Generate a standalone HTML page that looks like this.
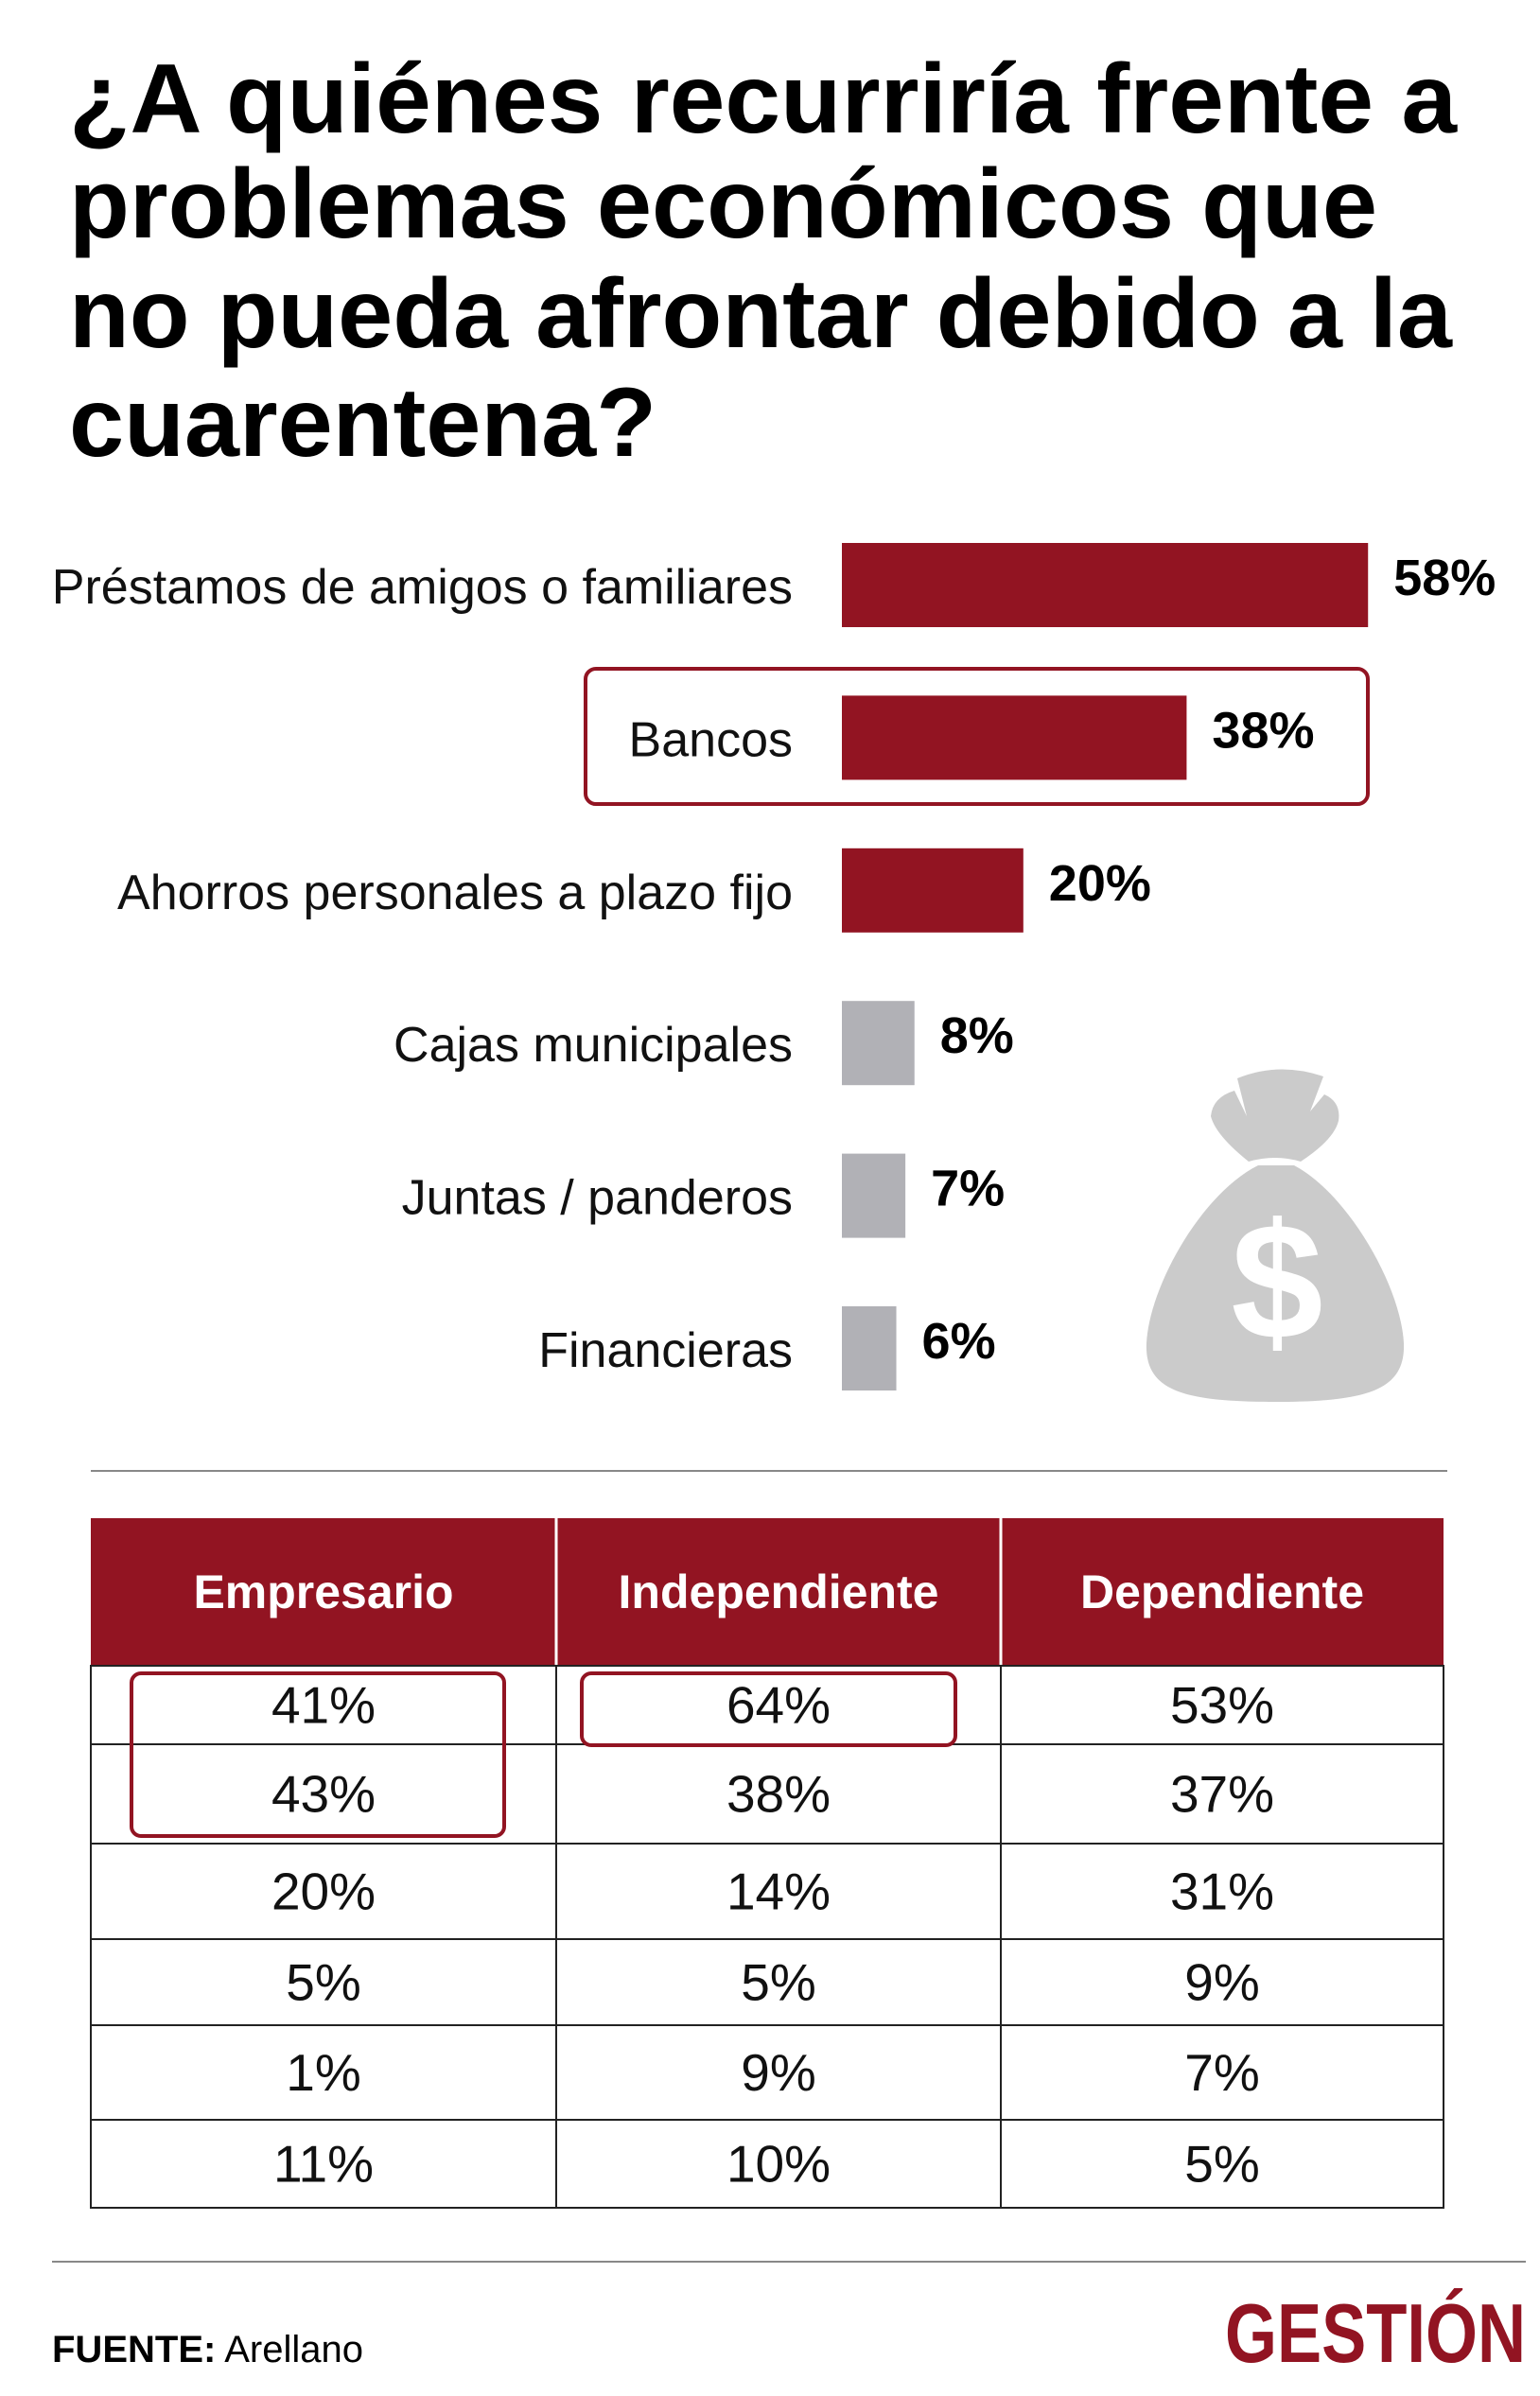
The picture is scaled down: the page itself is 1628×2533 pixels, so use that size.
<!DOCTYPE html>
<html><head><meta charset="utf-8"><style>
html,body{margin:0;padding:0;background:#fff}
svg{display:block}
text{font-family:"Liberation Sans",sans-serif}
</style></head><body>
<svg id="chart" width="1628" height="2533" viewBox="0 0 1628 2533" xmlns="http://www.w3.org/2000/svg">
<g font-weight="bold" font-size="104" fill="#000">
<text x="73" y="140" textLength="1467" lengthAdjust="spacingAndGlyphs">¿A quiénes recurriría frente a</text>
<text x="73" y="251" textLength="1383" lengthAdjust="spacingAndGlyphs">problemas económicos que</text>
<text x="73" y="367" textLength="1462" lengthAdjust="spacingAndGlyphs">no pueda afrontar debido a la</text>
<text x="73" y="482" textLength="621" lengthAdjust="spacingAndGlyphs">cuarentena?</text>
</g>
<rect x="619" y="707" width="827" height="143" rx="11" fill="none" stroke="#921422" stroke-width="4"/>
<g id="bars"></g>
<g fill="#cbcbcb">
<path d="M1330,1232 C1270,1262 1215,1360 1212,1420 C1210,1470 1250,1482 1348,1482 C1445,1482 1486,1470 1484,1420 C1481,1360 1425,1262 1368,1232 Z"/>
<path d="M1308,1140 Q1352,1122 1399,1138 L1385,1175 L1400,1157 Q1418,1165 1415,1185 Q1410,1205 1375,1228 Q1348,1220 1320,1228 Q1285,1200 1280,1180 Q1282,1160 1305,1153 L1318,1180 Z"/>
<text x="1350" y="1415" text-anchor="middle" font-size="175" font-weight="bold" fill="#fff">$</text>
</g>
<line x1="96" y1="1555" x2="1530" y2="1555" stroke="#888" stroke-width="2"/>
<g id="table"></g>
<line x1="55" y1="2391" x2="1613" y2="2391" stroke="#888" stroke-width="2"/>
<text x="55" y="2497" font-size="40" fill="#000"><tspan font-weight="bold">FUENTE:</tspan> Arellano</text>
<text x="1295" y="2497" font-family="Liberation Serif,serif" font-weight="bold" font-size="88" fill="#921422" textLength="318" lengthAdjust="spacingAndGlyphs">GESTIÓN</text>
</svg>
<script>
const categories = ["Préstamos de amigos o familiares","Bancos","Ahorros personales a plazo fijo","Cajas municipales","Juntas / panderos","Financieras"];
const values = [58,38,20,8,7,6];
const highlighted = [true,true,true,false,false,false];
const columns = ["Empresario","Independiente","Dependiente"];
const empresario = [41,43,20,5,1,11];
const independiente = [64,38,14,5,9,10];
const dependiente = [53,37,31,9,7,5];

const NS="http://www.w3.org/2000/svg";
function mk(tag,attrs,parent){const e=document.createElementNS(NS,tag);for(const k in attrs)e.setAttribute(k,attrs[k]);parent.appendChild(e);return e;}
const x0=890, pxPer=9.59;
const xs=v=>x0+v*pxPer;
const yRow=i=>574+i*161.4;
const bars=document.getElementById('bars');
categories.forEach((c,i)=>{
  const y=yRow(i);
  const lab=mk('text',{x:838,y:y+64,'text-anchor':'end','font-size':52,fill:'#111'},bars);
  
  
  lab.textContent=c;
  const r=mk('rect',{x:x0,y:y,width:xs(values[i])-x0,height:89,fill:highlighted[i]?'#921422':'#b1b1b6'},bars);
  
  
  const v=mk('text',{x:xs(values[i])+27,y:y+55,'font-size':54,'font-weight':'bold',fill:'#000'},bars);
  
  
  v.textContent=values[i]+'%';
});
const t=document.getElementById('table');
const colX=[96,588,1058,1526];
const rowY=[1761,1844,1949,2050,2141,2241,2334];
const hdr=mk('rect',{x:96,y:1605,width:1430,height:156,fill:'#921422'},t);


columns.forEach((c,j)=>{
  const h=mk('text',{x:(colX[j]+colX[j+1])/2,y:1700,'text-anchor':'middle','font-size':50,'font-weight':'bold',fill:'#fff'},t);
  
  
  h.textContent=c;
});
[588,1058].forEach(x=>{const l=mk('line',{x1:x,y1:1605,x2:x,y2:1761,stroke:'#fff','stroke-width':3},t);});
const body=mk('rect',{x:96,y:1761,width:1430,height:2334-1761,fill:'none',stroke:'#222','stroke-width':2},t);


[588,1058].forEach(x=>{const l=mk('line',{x1:x,y1:1761,x2:x,y2:2334,stroke:'#222','stroke-width':2},t);});
rowY.slice(1,6).forEach(y=>{const l=mk('line',{x1:96,y1:y,x2:1526,y2:y,stroke:'#222','stroke-width':2},t);});
[empresario,independiente,dependiente].forEach((col,j)=>{
  col.forEach((v,i)=>{
    const c=mk('text',{x:(colX[j]+colX[j+1])/2,y:(rowY[i]+rowY[i+1])/2+19,'text-anchor':'middle','font-size':55,fill:'#111'},t);
    
    
    c.textContent=v+'%';
  });
});
const h1=mk('rect',{x:139,y:1769,width:394,height:172,rx:10,fill:'none',stroke:'#921422','stroke-width':4},t);


const h2=mk('rect',{x:615,y:1769,width:395,height:76,rx:10,fill:'none',stroke:'#921422','stroke-width':4},t);


</script>
</body></html>
